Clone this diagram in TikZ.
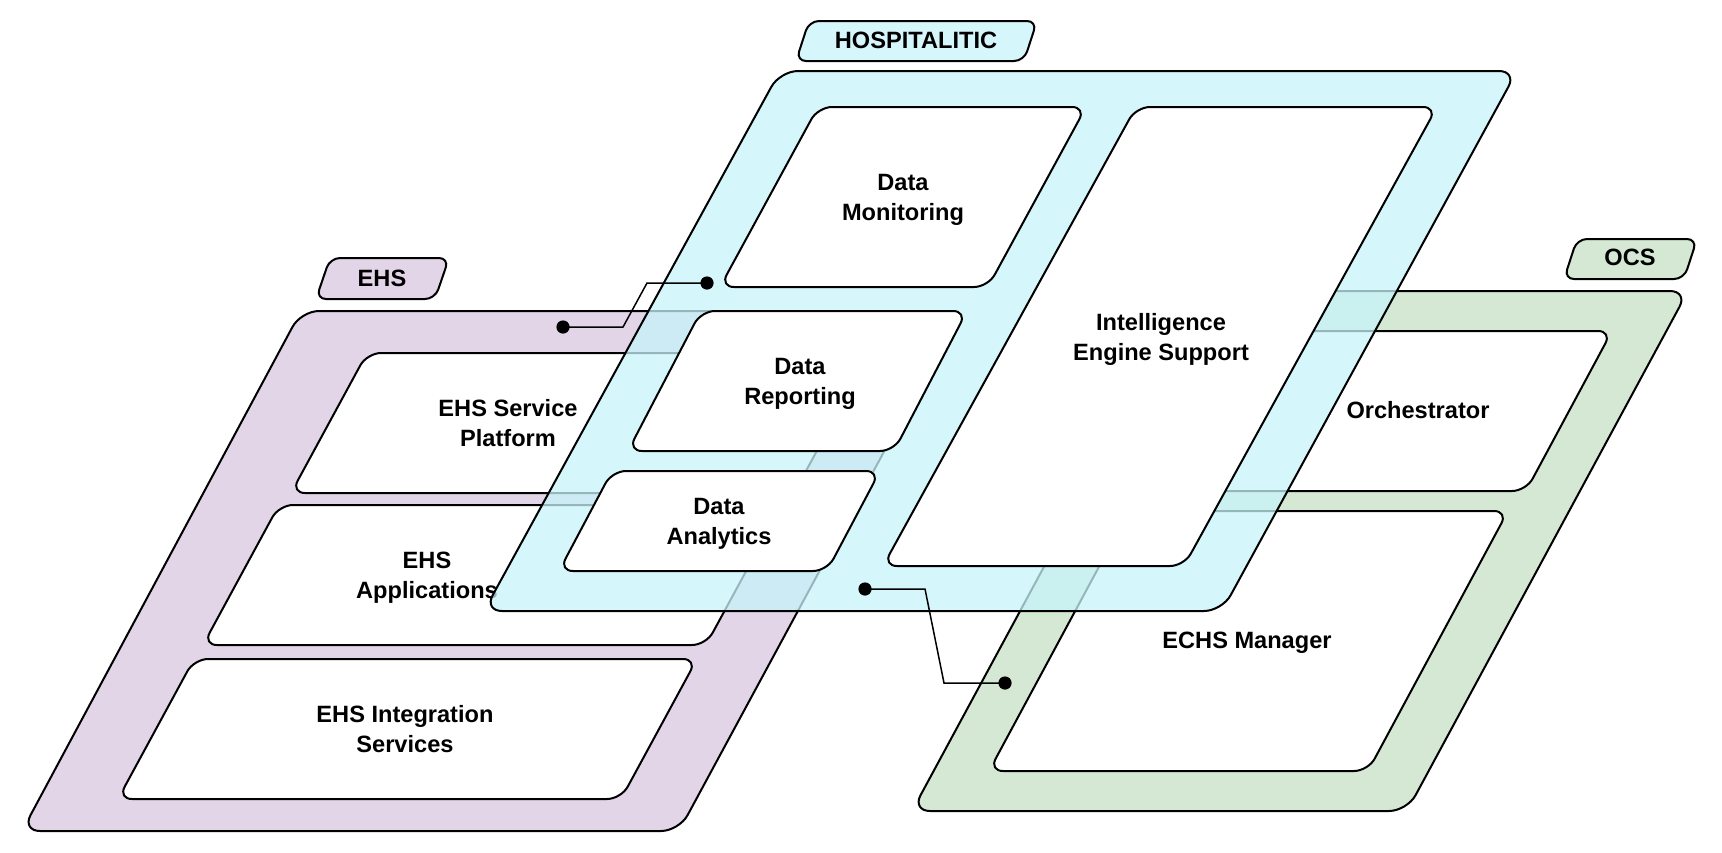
\documentclass[tikz,border=0pt]{standalone}
\usepackage{fontspec}
\setmainfont{Liberation Sans}
\usepackage{tikz}
\usetikzlibrary{calc}

\definecolor{ehsfill}{HTML}{E1D5E7}
\definecolor{ocsfill}{HTML}{D5E8D4}
\definecolor{hospfill}{RGB}{199,243,250}

\tikzset{
  frame/.style={draw=black, line width=1pt, rounded corners=9pt},
  box/.style={draw=black, fill=white, line width=1pt, rounded corners=7pt},
  tagbox/.style={draw=black, line width=1pt, rounded corners=5pt},
  lbl/.style={font=\fontsize{11.8pt}{15pt}\selectfont\bfseries, align=center, inner sep=0pt, text depth=0pt},
  wire/.style={draw=black, line width=0.75pt},
}

\begin{document}
\begin{tikzpicture}[x=0.5pt, y=-0.5pt]
    \useasboundingbox (0, 0) rectangle (1722, 852);

    % EHS
    \draw[frame, fill=ehsfill] (22, 831) -- (301, 311) -- (960, 311) -- (679, 831) -- cycle;
    \draw[box] (291, 493) -- (367, 353) -- (870, 353) -- (794, 493) -- cycle;
    \draw[box] (203, 645) -- (279, 505) -- (782, 505) -- (706, 645) -- cycle;
    \draw[box] (118, 799) -- (194, 659) -- (697, 659) -- (621, 799) -- cycle;
    \node[lbl] (ehsService) at (508, 423) {EHS Service\\Platform};
    \node[lbl] (ehsApps) at (427, 575) {EHS\\Applications};
    \node[lbl] (ehsIntegr) at (405, 729) {EHS Integration\\Services};

    % OCS
    \draw[frame, fill=ocsfill] (912, 811) -- (1193, 291) -- (1688, 291) -- (1407, 811) -- cycle;
    \draw[box] (1147, 491) -- (1233, 331) -- (1612, 331) -- (1526, 491) -- cycle;
    \draw[box] (989, 771) -- (1129, 511) -- (1508, 511) -- (1368, 771) -- cycle;
    \node[lbl] (orchestr) at (1418, 410) {Orchestrator};
    \node[lbl] (echsMgr) at (1247, 640) {ECHS Manager};

    % HOSPITALITIC
    \draw[frame, fill=hospfill, fill opacity=0.75] (484, 611) -- (780, 71) -- (1517, 71) -- (1222, 611) -- cycle;
    \draw[box] (720, 287) -- (818, 107) -- (1086, 107) -- (988, 287) -- cycle;
    \draw[box] (883, 566) -- (1136, 107) -- (1437, 107) -- (1184, 566) -- cycle;
    \draw[box] (628, 451) -- (701, 311) -- (967, 311) -- (894, 451) -- cycle;
    \draw[box] (559, 571) -- (612, 471) -- (880, 471) -- (827, 571) -- cycle;
    \node[lbl] (dataMon) at (903, 197) {Data\\Monitoring};
    \node[lbl] (intEngine) at (1161, 337) {Intelligence\\Engine Support};
    \node[lbl] (dataRep) at (800, 381) {Data\\Reporting};
    \node[lbl] (dataAna) at (719, 521) {Data\\Analytics};

    % tags
    \draw[tagbox, fill=ehsfill] (316, 299) -- (330, 258) -- (449, 258) -- (435, 299) -- cycle;
    \draw[tagbox, fill=hospfill, fill opacity=0.75] (796, 61) -- (809, 21) -- (1037, 21) -- (1024, 61) -- cycle;
    \draw[tagbox, fill=ocsfill] (1564, 279) -- (1577, 239) -- (1697, 239) -- (1684, 279) -- cycle;
    \node[lbl] (ehsTag) at (382, 278) {EHS};
    \node[lbl] (hospTag) at (916, 40) {HOSPITALITIC};
    \node[lbl] (ocsTag) at (1630, 257) {OCS};

    % links
    \coordinate (ehsPort) at (563, 327);
    \coordinate (hospPortA) at (707, 283);
    \coordinate (hospPortB) at (865, 589);
    \coordinate (ocsPort) at (1005, 683);
    \draw[wire] (ehsPort) -- ++(60, 0) -- ++(24, -44) -- (hospPortA);
    \draw[wire] (hospPortB) -- ++(60, 0) -- ++(19, 94) -- (ocsPort);
    \foreach \p in {ehsPort, hospPortA, hospPortB, ocsPort}
      \fill (\p) circle[radius=3.3pt];

\end{tikzpicture}
\end{document}
